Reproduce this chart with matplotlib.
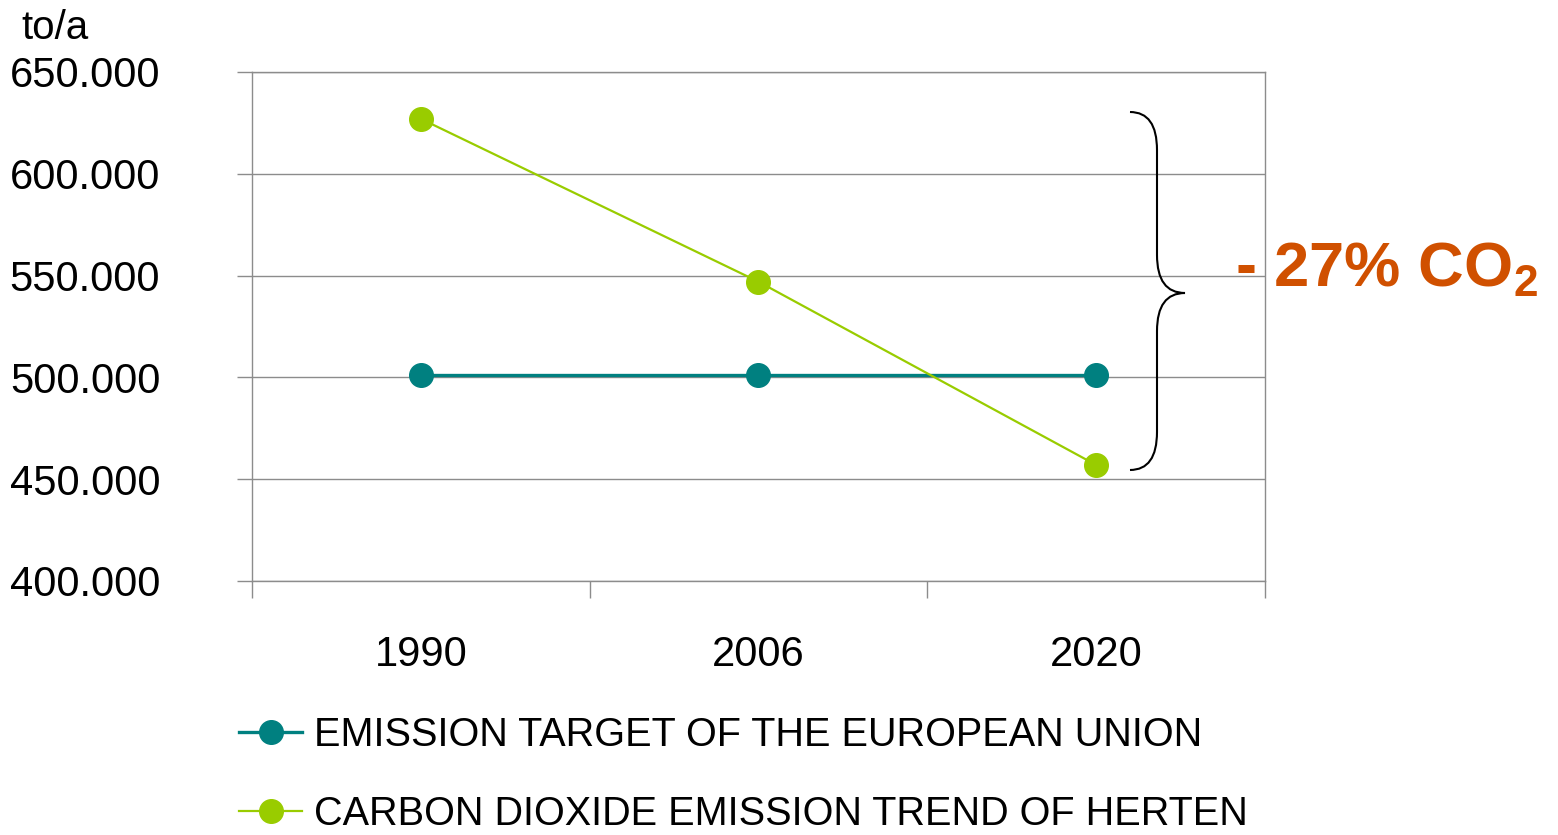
import matplotlib
matplotlib.use("Agg")
import matplotlib.pyplot as plt
from matplotlib.path import Path
from matplotlib.patches import PathPatch
from matplotlib.ticker import FuncFormatter, FixedLocator

plt.rcParams['font.family'] = ['Liberation Sans', 'DejaVu Sans']

years = ['1990', '2006', '2020']
eu_target = [501000, 501000, 501000]
herten_trend = [627000, 547000, 457000]
labels = ['EMISSION TARGET OF THE EUROPEAN UNION',
          'CARBON DIOXIDE EMISSION TREND OF HERTEN']

teal = '#008080'
green = '#99cc00'
orange = '#d05000'
gray = '#8c8c8c'

fig = plt.figure(figsize=(15.58, 8.35), dpi=100)
ax = fig.add_axes([0.1617, 0.3042, 0.6502, 0.6096])

x = [i + 0.5 for i in range(len(years))]
l1, = ax.plot(x, eu_target, color=teal, lw=2.4, marker='o', ms=17, label=labels[0])
l2, = ax.plot(x, herten_trend, color=green, lw=1.6, marker='o', ms=17, label=labels[1])

ax.set_xlim(0, 3)
ax.set_ylim(400000, 650000)
ax.set_yticks(range(400000, 650001, 50000))
ax.yaxis.set_major_formatter(FuncFormatter(lambda v, p: f"{int(v):,}".replace(',', '.')))
ax.grid(axis='y', color=gray, lw=1)
ax.set_axisbelow(True)
for s in ax.spines.values():
    s.set_color(gray)
    s.set_linewidth(1)

ax.set_xticks(x)
ax.set_xticklabels(years)
ax.xaxis.set_minor_locator(FixedLocator([0, 1, 2, 3]))
ax.tick_params(axis='x', which='major', length=0, pad=39, labelsize=30)
ax.tick_params(axis='x', which='minor', length=12, color=gray, width=1)
ax.tick_params(axis='y', length=11, color=gray, width=1, pad=55, labelsize=30)

fig.text(0.014, 0.967, 'to/a', fontsize=29, va='center', ha='left')

# brace, drawn in pixel positions converted to data
def px(xp, yp):
    return ax.transData.inverted().transform((xp, 835 - yp))

pts = [(1130, 112), (1157, 112), (1157, 150),
       (1157, 255), (1157, 293), (1185, 293),
       (1157, 293), (1157, 331),
       (1157, 432), (1157, 470), (1130, 470)]
codes = [Path.MOVETO, Path.CURVE3, Path.CURVE3,
         Path.LINETO, Path.CURVE3, Path.CURVE3,
         Path.CURVE3, Path.CURVE3,
         Path.LINETO, Path.CURVE3, Path.CURVE3]
verts = [tuple(px(a, b)) for a, b in pts]
ax.add_patch(PathPatch(Path(verts, codes), fill=False, lw=1.5, color='black', clip_on=False))

fig.text(1235 / 1558, 1 - 287 / 835, r'- 27% CO$_\mathregular{2}$', fontsize=45.5,
         fontweight='bold', color=orange, ha='left', va='baseline')

fig.legend(handles=[l1, l2], loc='upper left', bbox_to_anchor=(0.1534, 0.143),
           frameon=False, fontsize=28.5, handlelength=1.6, handletextpad=0.3,
           labelspacing=1.05, borderaxespad=0, borderpad=0)

fig.savefig('out.png', dpi=100)
